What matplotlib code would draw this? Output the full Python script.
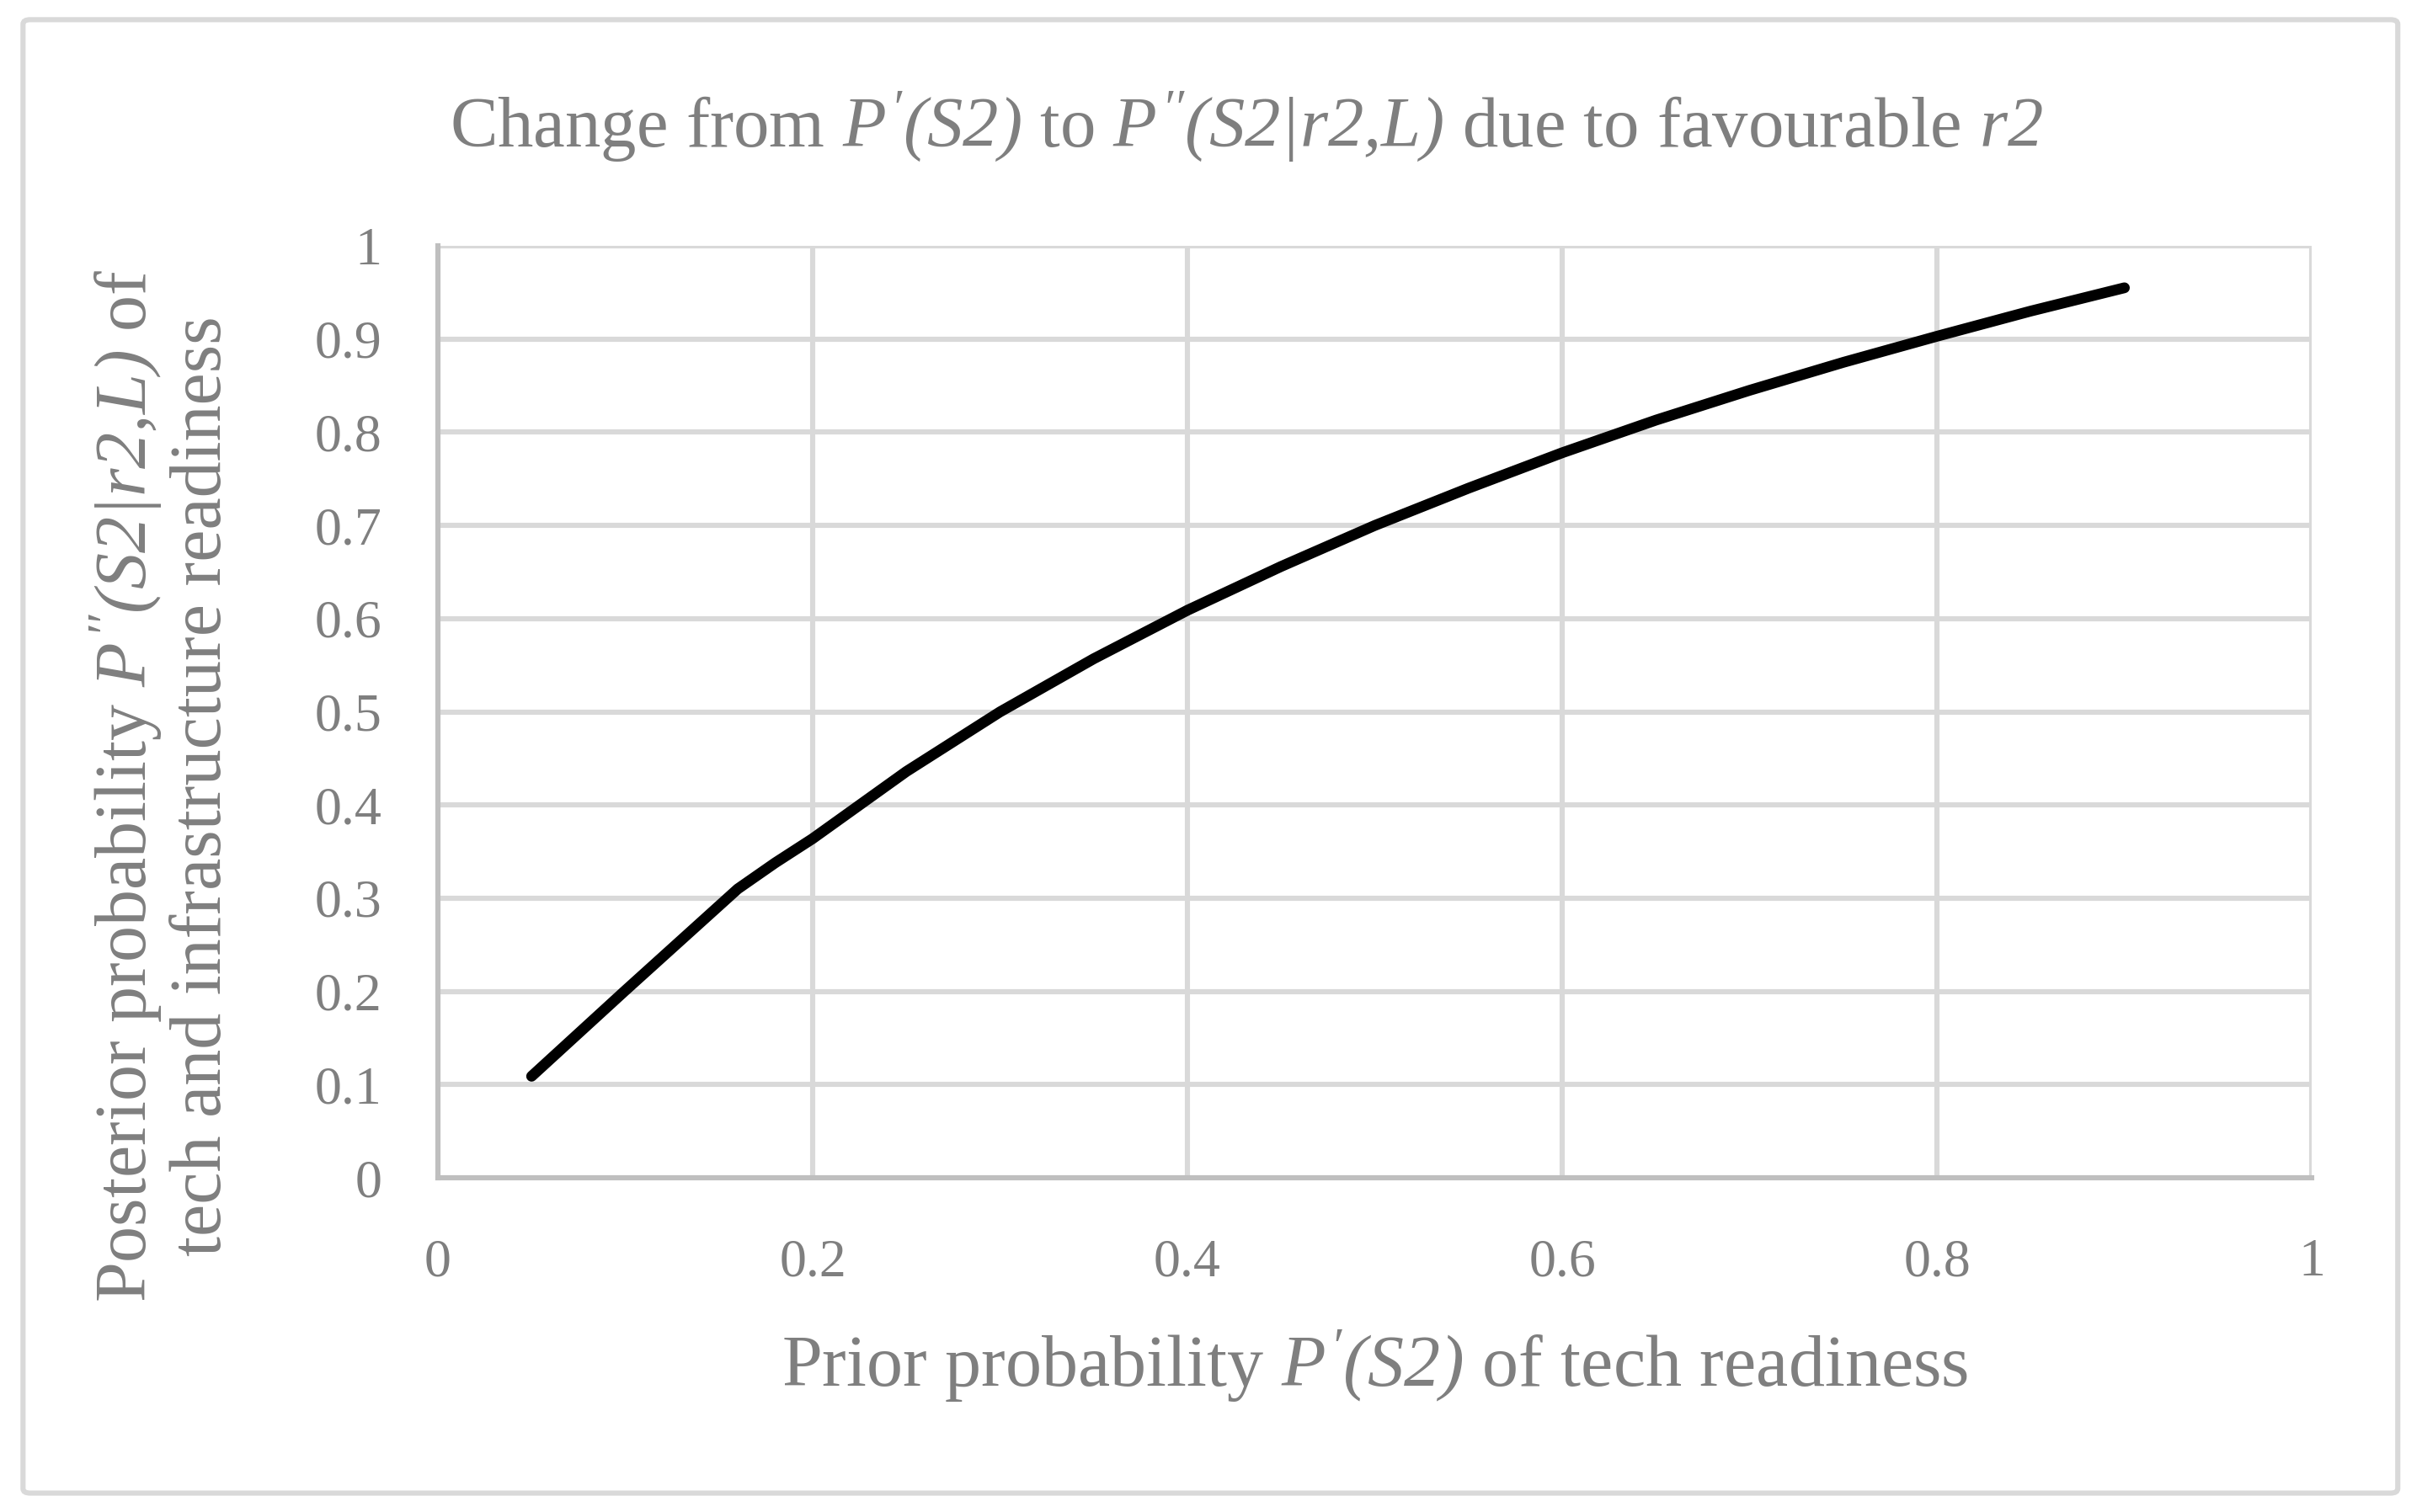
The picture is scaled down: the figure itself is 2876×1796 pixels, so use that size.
import matplotlib
matplotlib.use("Agg")
from matplotlib import pyplot as plt
from matplotlib.patches import FancyBboxPatch

# prior P'(S2) and posterior P''(S2|r2,L)
prior = [0.05, 0.10, 0.16, 0.18, 0.20, 0.25, 0.30, 0.35, 0.40, 0.45, 0.50,
         0.55, 0.60, 0.65, 0.70, 0.75, 0.80, 0.85, 0.90]
posterior = [0.109, 0.201, 0.31, 0.338, 0.364, 0.436, 0.50, 0.557, 0.609, 0.656, 0.70,
             0.74, 0.778, 0.813, 0.845, 0.875, 0.903, 0.93, 0.955]

xticks = [0, 0.2, 0.4, 0.6, 0.8, 1]
xticklabels = ['0', '0.2', '0.4', '0.6', '0.8', '1']
yticks = [0, 0.1, 0.2, 0.3, 0.4, 0.5, 0.6, 0.7, 0.8, 0.9, 1]
yticklabels = ['0', '0.1', '0.2', '0.3', '0.4', '0.5', '0.6', '0.7', '0.8', '0.9', '1']

plt.rcParams['font.family'] = ['Liberation Serif', 'DejaVu Serif']
plt.rcParams['mathtext.fontset'] = 'custom'
plt.rcParams['mathtext.rm'] = 'Liberation Serif:italic'
plt.rcParams['mathtext.it'] = 'Liberation Serif:italic'
plt.rcParams['mathtext.default'] = 'it'

grey = '#7f7f7f'
gridc = '#d9d9d9'

fig = plt.figure(figsize=(14.38, 8.98), dpi=200)
ax = fig.add_axes([0.1808, 0.221, 0.7737, 0.6164])

ax.plot(prior, posterior, color='black', lw=4.6, solid_capstyle='round',
        solid_joinstyle='round', zorder=3)

ax.set_xlim(0, 1)
ax.set_ylim(0, 1)
ax.set_xticks(xticks)
ax.set_xticklabels(xticklabels)
ax.set_yticks(yticks)
ax.set_yticklabels(yticklabels)
ax.grid(True, color=gridc, lw=2.2, zorder=0)
ax.set_axisbelow(True)
for side in ['top', 'right']:
    ax.spines[side].set_visible(False)
for side in ['left', 'bottom']:
    ax.spines[side].set_color('#bfbfbf')
    ax.spines[side].set_linewidth(2.2)
ax.tick_params(axis='both', length=0, labelsize=23, labelcolor=grey)
ax.tick_params(axis='x', pad=26)
ax.tick_params(axis='y', pad=24)

fig.text(0.5147, 0.9165,
         r"Change from $P'(S2)$ to $P''(S2|r2{,}L)$ due to favourable $r2$",
         ha='center', va='center', fontsize=30.5, color=grey)
fig.text(0.5678, 0.0963, r"Prior probability $P'(S2)$ of tech readiness",
         ha='center', va='center', fontsize=31, color=grey)
fig.text(0.067, 0.48,
         "Posterior probability $P''(S2|r2{,}L)$ of\ntech and infrastructure readiness",
         ha='center', va='center', rotation=90, fontsize=31, color=grey,
         multialignment='center', linespacing=1.1)

border = FancyBboxPatch((0.0095, 0.0125), 0.9805, 0.9745,
                        boxstyle='round,pad=0,rounding_size=0.003',
                        transform=fig.transFigure, fill=False,
                        edgecolor=gridc, lw=2.2)
fig.patches.append(border)

fig.savefig('out.png', dpi=200, facecolor='white')
